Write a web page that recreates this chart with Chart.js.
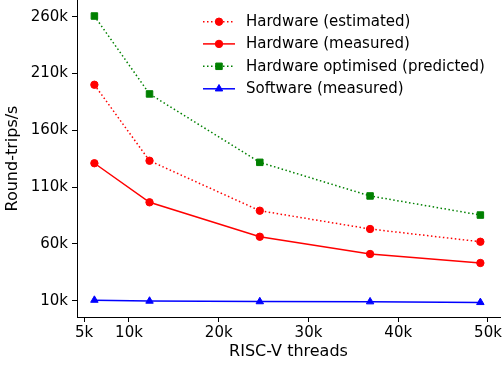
<!DOCTYPE html>
<html><head><meta charset="utf-8">
<script src="https://cdn.jsdelivr.net/npm/chart.js@4"></script>
<style>html,body{margin:0;padding:0;background:#fff}canvas{display:block}</style>
</head><body>
<canvas id="c" width="503" height="366"></canvas>
<script>
const threads = [6144, 12288, 24576, 36864, 49152];
const hwEstimated = [200100, 133200, 89200, 73100, 61900];
const hwMeasured = [131000, 96600, 66300, 51100, 43200];
const hwOptimised = [260600, 192000, 131800, 102200, 85400];
const swMeasured = [10500, 9700, 9200, 9100, 8500];
const xTicks = [5000, 10000, 20000, 30000, 40000, 50000];
const yTicks = [10000, 60000, 110000, 160000, 210000, 260000];
const seriesNames = ['Hardware (estimated)', 'Hardware (measured)', 'Hardware optimised (predicted)', 'Software (measured)'];

const FONT = 'DejaVu Sans';
const toPts = arr => arr.map((v, i) => ({x: threads[i], y: v}));

function ds(label, data, color, dash, style, r) {
  return {
    label, data: toPts(data), borderColor: color, backgroundColor: color,
    pointBackgroundColor: color, pointBorderColor: color, pointBorderWidth: 1,
    borderWidth: 1.5, borderDash: dash, pointStyle: style, pointRadius: r,
    pointHoverRadius: r, showLine: true, tension: 0, fill: false, clip: 8
  };
}

const datasets = [
  ds(seriesNames[0], hwEstimated, '#ff0000', [1.5, 2.5], 'circle', 3.7),
  ds(seriesNames[1], hwMeasured, '#ff0000', [], 'circle', 3.7),
  ds(seriesNames[2], hwOptimised, '#008000', [1.5, 2.5], 'rect', 4.6),
  ds(seriesNames[3], swMeasured, '#0000ff', [], 'triangle', 4.3)
];

const legendPlugin = {
  id: 'mplLegend',
  afterDraw(chart) {
    const ctx = chart.ctx;
    const rows = [21.7, 43.9, 66.3, 88.8];
    chart.data.datasets.forEach((d, i) => {
      const y = rows[i];
      ctx.save();
      ctx.strokeStyle = d.borderColor;
      ctx.fillStyle = d.borderColor;
      ctx.lineWidth = d.borderWidth;
      ctx.setLineDash(d.borderDash || []);
      ctx.beginPath();
      ctx.moveTo(203, y);
      ctx.lineTo(235, y);
      ctx.stroke();
      ctx.setLineDash([]);
      ctx.lineWidth = 1;
      Chart.helpers.drawPoint(ctx, {pointStyle: d.pointStyle, rotation: 0, radius: d.pointRadius, borderWidth: 1}, 219, y);
      ctx.fillStyle = '#000';
      ctx.font = '15px "' + FONT + '"';
      ctx.textBaseline = 'middle';
      ctx.textAlign = 'left';
      ctx.fillText(d.label, 246, y + 0.5);
      ctx.restore();
    });
  }
};

function zeroPad(s) { s.paddingTop = 0; s.paddingBottom = 0; s.paddingLeft = 0; s.paddingRight = 0; }

new Chart(document.getElementById('c'), {
  type: 'line',
  data: {datasets},
  options: {
    responsive: false,
    animation: false,
    layout: {autoPadding: false, padding: {left: 0, right: 3, top: 0, bottom: 0}},
    plugins: {legend: {display: false}, tooltip: {enabled: false}},
    scales: {
      x: {
        type: 'linear', min: 4206, max: 51340,
        afterBuildTicks: s => { s.ticks = xTicks.map(v => ({value: v})); },
        afterFit: s => { s.height = 49; zeroPad(s); },
        grid: {drawOnChartArea: false, drawTicks: true, tickLength: 5, color: '#000', tickColor: '#000'},
        border: {display: true, color: '#000', width: 1},
        ticks: {color: '#000', padding: 2, maxRotation: 0, autoSkip: false,
          font: {family: FONT, size: 15}, callback: v => (v / 1000) + 'k'},
        title: {display: true, text: 'RISC-V threads', color: '#000',
          font: {family: FONT, size: 16}, padding: {top: 0, bottom: 5}}
      },
      y: {
        type: 'linear', min: -4350, max: 274700,
        afterBuildTicks: s => { s.ticks = yTicks.map(v => ({value: v})); },
        afterFit: s => { s.width = 77; zeroPad(s); },
        grid: {drawOnChartArea: false, drawTicks: true, tickLength: 5, color: '#000', tickColor: '#000'},
        border: {display: true, color: '#000', width: 1},
        ticks: {color: '#000', padding: 4, autoSkip: false,
          font: {family: FONT, size: 15}, callback: v => (v / 1000) + 'k'},
        title: {display: true, text: 'Round-trips/s', color: '#000',
          font: {family: FONT, size: 16}, padding: {top: 3, bottom: 0}}
      }
    }
  },
  plugins: [legendPlugin]
});
</script>
</body></html>
